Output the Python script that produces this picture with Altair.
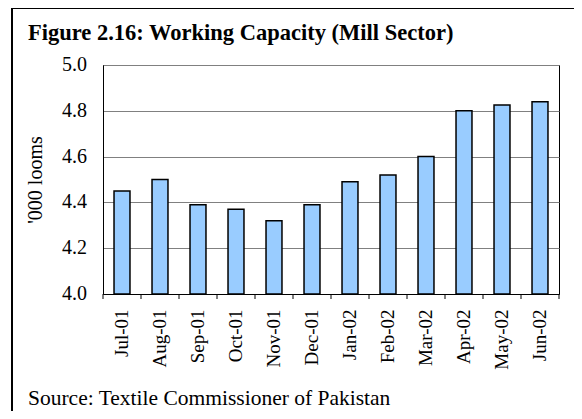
import altair as alt
import pandas as pd

months = ["Jul-01", "Aug-01", "Sep-01", "Oct-01", "Nov-01", "Dec-01",
          "Jan-02", "Feb-02", "Mar-02", "Apr-02", "May-02", "Jun-02"]
values = [4.45, 4.50, 4.39, 4.37, 4.32, 4.39, 4.49, 4.52, 4.60, 4.80, 4.825, 4.84]
y_ticks = [4.0, 4.2, 4.4, 4.6, 4.8, 5.0]
y_tick_labels = ["4.0", "4.2", "4.4", "4.6", "4.8", "5.0"]
y_base = 4.0
title_text = "Figure 2.16: Working Capacity (Mill Sector)"
source_text = "Source: Textile Commissioner of Pakistan"
y_title = "'000 looms"

W, H = 456, 229
FONT = "Liberation Serif"

df = pd.DataFrame({"month": months, "value": values})
ylab_df = pd.DataFrame({"value": y_ticks, "label": y_tick_labels})
ticks_df = pd.DataFrame({"b": list(range(len(months) + 1))})
one = pd.DataFrame({"a": [0]})

yscale = alt.Scale(domain=[4.0, 5.0], nice=False, zero=False)

bars = alt.Chart(df).mark_bar(
    fill="#99CCFF", stroke="black", strokeWidth=1.5
).encode(
    x=alt.X("month:N", sort=months, title=None,
            scale=alt.Scale(paddingInner=0.58, paddingOuter=0.29),
            axis=alt.Axis(labelAngle=-90, ticks=False, labelPadding=15,
                          labelFont=FONT, labelFontSize=19, labelColor="black",
                          domainColor="black", domainWidth=1)),
    y=alt.Y("value:Q", title=y_title, scale=yscale,
            axis=alt.Axis(values=y_ticks, ticks=False, labels=False,
                          titleFont=FONT, titleFontSize=20, titleFontWeight="normal",
                          titleColor="black", titlePadding=58,
                          grid=True, gridColor="#808080", gridWidth=1,
                          domainColor="black", domainWidth=1)),
    y2=alt.datum(y_base),
)

ylabels = alt.Chart(ylab_df).mark_text(
    font=FONT, fontSize=20, align="right", baseline="middle", color="black"
).encode(
    y=alt.Y("value:Q", scale=yscale),
    x=alt.value(-16),
    text="label:N",
)

xticks = alt.Chart(ticks_df).mark_rule(color="black", strokeWidth=1).encode(
    x=alt.X("b:Q", scale=alt.Scale(domain=[0, len(months)], nice=False), axis=None),
    y=alt.value(H), y2=alt.value(H + 5),
)

frame_left = alt.Chart(one).mark_rule(color="black", strokeWidth=2).encode(
    x=alt.value(-91), y=alt.value(-58), y2=alt.value(H + 130),
)
frame_top = alt.Chart(one).mark_rule(color="black", strokeWidth=2).encode(
    x=alt.value(-92), x2=alt.value(W + 30), y=alt.value(-57),
)

title = alt.Chart(one).mark_text(
    text=title_text, font=FONT, fontSize=22.5, fontWeight="bold",
    align="left", baseline="middle", color="black"
).encode(x=alt.value(-75), y=alt.value(-32))

source = alt.Chart(one).mark_text(
    text=source_text, font=FONT, fontSize=21.5,
    align="left", baseline="middle", color="black"
).encode(x=alt.value(-75), y=alt.value(334))

chart = alt.layer(bars, ylabels, xticks, frame_left, frame_top, title, source).resolve_scale(
    x="independent"
).properties(
    width=W, height=H,
    autosize=alt.AutoSizeParams(type="none"),
    padding={"left": 95, "top": 57, "right": 15, "bottom": 117},
).configure(
    background="white", font=FONT
).configure_view(stroke="black", strokeWidth=1).configure_axis(
    labelFont=FONT, titleFont=FONT
)

chart.save("out.html", embed_options={"renderer": "svg", "actions": False})
